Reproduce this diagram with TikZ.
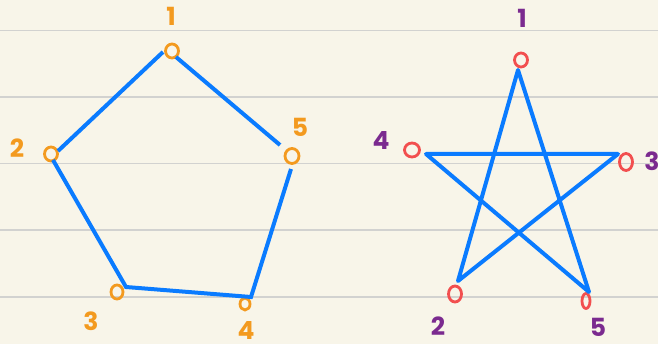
\documentclass[tikz,border=0pt]{standalone}
\usepackage{fontspec}
\setmainfont{Poppins}
\usetikzlibrary{shapes.geometric}
\definecolor{paper}{HTML}{F8F5E9}
\definecolor{ruleline}{HTML}{D2D2D0}
\definecolor{penblue}{HTML}{0A7BFF}
\definecolor{penorange}{HTML}{F39A1F}
\definecolor{penred}{HTML}{F24F4F}
\definecolor{penpurple}{HTML}{7B2A8F}
\begin{document}
\begin{tikzpicture}[
    x=1pt, y=-1pt,
    rule/.style={draw=ruleline, line width=1.2pt},
    edge/.style={draw=penblue, line width=4pt},
    ring/.style={ellipse, draw, line width=2.8pt, inner sep=0pt,
                 minimum width=13pt, minimum height=14pt},
    num/.style={font=\fontsize{25}{25}\selectfont\bfseries}
]

% paper
\fill[paper] (0,0) rectangle (658,344);
\useasboundingbox (0,0) rectangle (658,344);
\foreach \y in {30.5,97,163.5,230,297}
    \draw[rule] (0,\y) -- (658,\y);

% pentagon
\node (p1) [ring, draw=penorange] at (172,51)  {};
\node (p2) [ring, draw=penorange] at (51,154)  {};
\node (p3) [ring, draw=penorange, minimum width=12pt] at (117,292) {};
\node (p4) [ring, draw=penorange, minimum width=10pt, minimum height=12pt] at (245,304) {};
\node (p5) [ring, draw=penorange, minimum width=14pt, minimum height=15pt] at (292,156) {};

\node (pn1) [num, text=penorange] at (171,16)  {1};
\node (pn2) [num, text=penorange] at (17,148)  {2};
\node (pn3) [num, text=penorange] at (91,321)  {3};
\node (pn4) [num, text=penorange] at (246,330) {4};
\node (pn5) [num, text=penorange] at (300,127) {5};

\coordinate (a1l) at (163,52);
\coordinate (a1r) at (176,57);
\coordinate (a2t) at (58,151);
\coordinate (a2b) at (53,160);
\coordinate (a3)  at (126,287);
\coordinate (a4)  at (251,297);
\coordinate (a5b) at (291,169);
\coordinate (a5t) at (280,145);

\draw[edge] (a1l) -- (a2t);
\draw[edge] (a1r) -- (a5t);
\draw[edge, line join=miter] (a2b) -- (a3) -- (a4) -- (a5b);

% star
\node (r1) [ring, draw=penred] at (521,60)  {};
\node (r2) [ring, draw=penred, minimum height=16pt] at (455,294) {};
\node (r3) [ring, draw=penred, minimum height=17pt] at (626,162) {};
\node (r4) [ring, draw=penred, minimum width=15pt] at (412,150) {};
\node (r5) [ring, draw=penred, minimum width=8pt, minimum height=15pt] at (586,301) {};

\node (sn1) [num, text=penpurple] at (522,18)  {1};
\node (sn2) [num, text=penpurple] at (438,326) {2};
\node (sn3) [num, text=penpurple] at (652,161) {3};
\node (sn4) [num, text=penpurple] at (381,141) {4};
\node (sn5) [num, text=penpurple] at (598,327) {5};

\coordinate (s1) at (518,70);
\coordinate (s2) at (458,281);
\coordinate (s3) at (618,154);
\coordinate (s4) at (426,154);
\coordinate (s5) at (589,292);

\draw[edge, line join=round] (s1) -- (s2) -- (s3) -- (s4) -- (s5) -- cycle;

\end{tikzpicture}
\end{document}
